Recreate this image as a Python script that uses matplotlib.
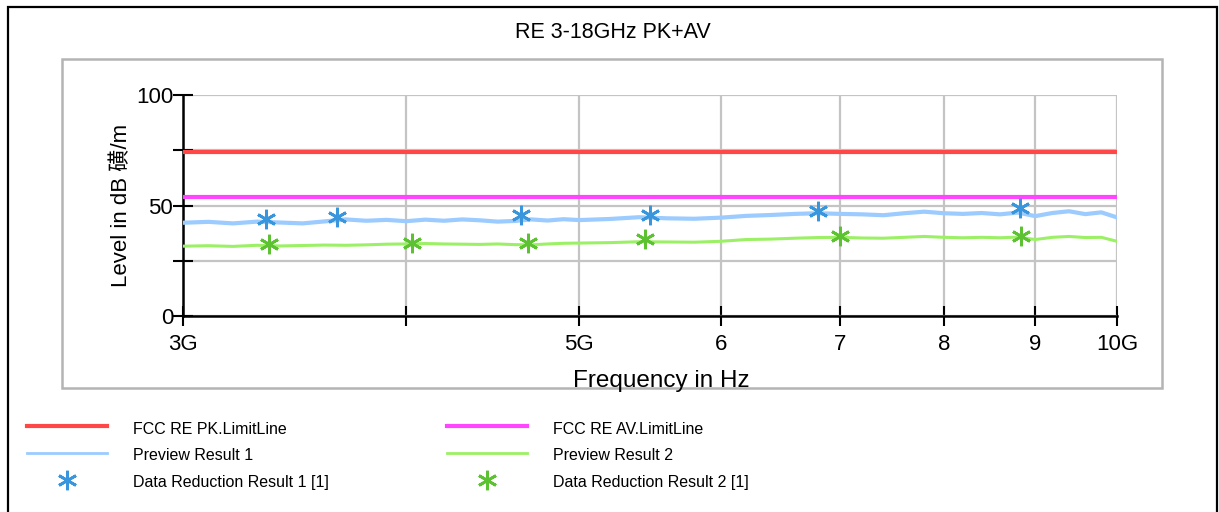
import numpy as np
import matplotlib
matplotlib.use("Agg")
import matplotlib.pyplot as plt
from matplotlib.patches import Rectangle
from matplotlib.lines import Line2D
from matplotlib.ticker import NullLocator

plt.rcParams['font.family'] = ['Liberation Sans', 'Noto Sans CJK SC']

# ---- data (GHz / dB) ----
freq_ghz = [3.0, 3.1, 3.2, 3.3, 3.4, 3.5, 3.6, 3.7, 3.8, 3.9,
            4.0, 4.1, 4.2, 4.3, 4.4, 4.5, 4.6, 4.7, 4.8, 4.9,
            5.0, 5.2, 5.4, 5.6, 5.8, 6.0, 6.2, 6.4, 6.6, 6.8,
            7.0, 7.2, 7.4, 7.6, 7.8, 8.0, 8.2, 8.4, 8.6, 8.8,
            9.0, 9.2, 9.4, 9.6, 9.8, 10.0]
preview1 = [42.2, 42.6, 41.9, 42.7, 42.3, 41.9, 42.8, 43.7, 43.1, 43.5,
            42.9, 43.6, 43.1, 43.7, 43.3, 42.7, 43.0, 43.7, 43.2, 43.8,
            43.4, 43.9, 44.7, 44.2, 44.0, 44.5, 45.3, 45.7, 46.2, 46.5,
            46.2, 46.0, 45.6, 46.5, 47.2, 46.5, 46.2, 46.6, 46.0, 46.8,
            45.2, 46.6, 47.4, 46.1, 46.9, 44.6]
preview2 = [31.6, 31.8, 31.5, 32.0, 31.7, 31.9, 32.1, 32.0, 32.2, 32.5,
            32.6, 32.8, 32.6, 32.5, 32.4, 32.6, 32.3, 32.2, 32.6, 32.9,
            33.0, 33.2, 33.6, 33.5, 33.4, 33.8, 34.6, 34.8, 35.2, 35.5,
            35.6, 35.3, 35.2, 35.6, 36.0, 35.6, 35.4, 35.6, 35.4, 35.7,
            34.6, 35.6, 36.0, 35.5, 35.6, 33.8]

pk_limit = 74
av_limit = 54

dr1_freq = [3.34, 3.66, 4.64, 5.48, 6.80, 8.83]
dr1_level = [43.8, 44.9, 45.7, 45.7, 47.5, 49.0]
dr2_freq = [3.35, 4.03, 4.68, 5.44, 7.00, 8.84]
dr2_level = [32.4, 33.2, 32.9, 34.7, 36.3, 36.3]

xticks_ghz = [3, 4, 5, 6, 7, 8, 9, 10]
xtick_labels = ['3G', '', '5G', '6', '7', '8', '9', '10G']
yticks = [0, 25, 50, 75, 100]
ytick_labels = ['0', '', '50', '', '100']

legend_labels = ['FCC RE PK.LimitLine', 'FCC RE AV.LimitLine',
                 'Preview Result 1', 'Preview Result 2',
                 'Data Reduction Result 1 [1]', 'Data Reduction Result 2 [1]']

c_pk = '#ff4747'
c_av = '#ff45ff'
c_p1 = '#9ccbff'
c_p2 = '#9cf066'
c_m1 = '#3a96dc'
c_m2 = '#5cc232'

W, H = 1219, 512
fig = plt.figure(figsize=(W / 100, H / 100), dpi=100)
fx = lambda x: x / W
fy = lambda y: 1 - y / H

# frames
fig.patches.append(Rectangle((fx(8), fy(530)), fx(1217) - fx(8), fy(7) - fy(530),
                             transform=fig.transFigure, fill=False,
                             edgecolor='black', lw=1.6, zorder=0))
fig.patches.append(Rectangle((fx(62), fy(388)), fx(1162) - fx(62), fy(59) - fy(388),
                             transform=fig.transFigure, fill=False,
                             edgecolor='#b4b4b4', lw=1.8, zorder=0))

fig.text(fx(613), fy(33), 'RE 3-18GHz PK+AV', ha='center', va='center', fontsize=15.5)

ax = fig.add_axes([fx(183), fy(316), fx(1117) - fx(183), fy(95) - fy(316)])
f = np.array(freq_ghz) * 1e9
ax.plot([3e9, 10e9], [pk_limit, pk_limit], color=c_pk, lw=3, zorder=4)
ax.plot([3e9, 10e9], [av_limit, av_limit], color=c_av, lw=3, zorder=4)
ax.plot(f, preview1, color=c_p1, lw=3, zorder=3)
ax.plot(f, preview2, color=c_p2, lw=2.2, zorder=3)
ax.plot(np.array(dr1_freq) * 1e9, dr1_level, ls='none', marker=(6, 2, 0),
        ms=14, mew=2, color=c_m1, zorder=5)
ax.plot(np.array(dr2_freq) * 1e9, dr2_level, ls='none', marker=(6, 2, 0),
        ms=14, mew=2, color=c_m2, zorder=5)

ax.set_xscale('log')
ax.set_xlim(3e9, 10e9)
ax.set_ylim(0, 100)
ax.xaxis.set_minor_locator(NullLocator())
ax.set_xticks([t * 1e9 for t in xticks_ghz])
ax.set_xticklabels(xtick_labels)
ax.set_yticks(yticks)
ax.set_yticklabels(ytick_labels)
ax.grid(True, color='#c4c4c4', lw=1.6, zorder=0)
ax.set_axisbelow(True)
for s in ['top', 'right']:
    ax.spines[s].set_visible(False)
for s in ['left', 'bottom']:
    ax.spines[s].set_linewidth(1.8)
ax.tick_params(axis='both', direction='inout', length=14, width=1.5,
               labelsize=16)
ax.tick_params(axis='x', pad=6)
ax.tick_params(axis='y', pad=0)
ax.set_ylabel('Level in dB 磺/m', fontsize=16, labelpad=3)

fig.text(fx(661), fy(381), 'Frequency in Hz', ha='center', va='center', fontsize=17.5)

# legend drawn by hand
rows = [428, 455, 482]
cols = [(27, 107, 133), (447, 527, 553)]
styles = [dict(color=c_pk, lw=3), dict(color=c_av, lw=3),
          dict(color=c_p1, lw=2), dict(color=c_p2, lw=2),
          dict(color=c_m1, ls='none', marker=(6, 2, 0), ms=14, mew=2),
          dict(color=c_m2, ls='none', marker=(6, 2, 0), ms=14, mew=2)]
for i, lab in enumerate(legend_labels):
    r, c = divmod(i, 2)
    x0, x1, xt = cols[c]
    y = rows[r]
    if styles[i].get('ls') == 'none':
        fig.add_artist(Line2D([fx((x0 + x1) / 2)], [fy(y - 2)],
                              transform=fig.transFigure, **styles[i]))
    else:
        fig.add_artist(Line2D([fx(x0), fx(x1)], [fy(y - 2), fy(y - 2)],
                              transform=fig.transFigure, **styles[i]))
    fig.text(fx(xt), fy(y + 1), lab, ha='left', va='center', fontsize=11.5)

fig.savefig('out.png', dpi=100)
